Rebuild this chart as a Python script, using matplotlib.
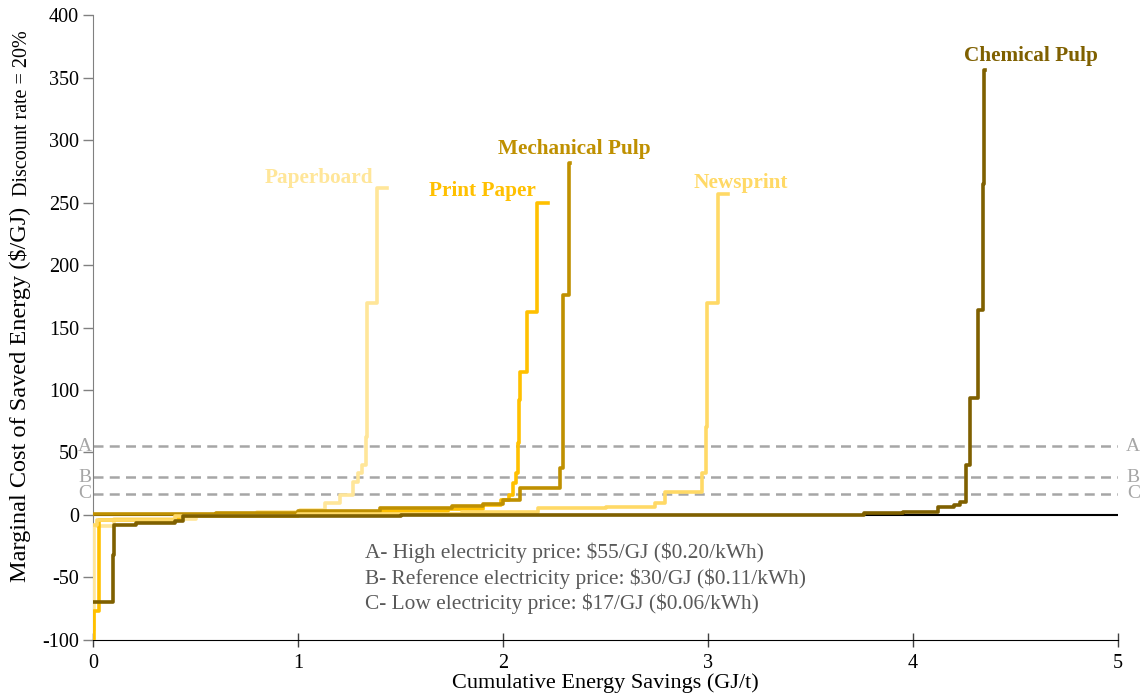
import matplotlib
matplotlib.use("Agg")
import matplotlib.pyplot as plt

plt.rcParams['font.family'] = ['Liberation Serif', 'DejaVu Serif']
plt.rcParams['axes.unicode_minus'] = False

# Each series: cost of each measure ($/GJ) and cumulative savings at its end (GJ/t)
paperboard_cost = [-92, -9, -3, 0, 2.4, 4, 9.6, 16, 26, 33.6, 40, 62, 170, 261.6]
paperboard_end = [0.003, 0.1, 0.5, 0.8, 1.01, 1.13, 1.205, 1.268, 1.293, 1.312, 1.33, 1.337, 1.385, 1.434]

print_cost = [-100, -77, -4, -0.5, 1.5, 3.5, 5, 8, 12, 16, 25.6, 33.6, 57.6, 92, 114.4, 162.4, 249.6]
print_end = [0.004, 0.03, 0.42, 1.0, 1.4, 1.73, 1.9, 1.99, 2.029, 2.049, 2.065, 2.072, 2.078, 2.083, 2.117, 2.166, 2.22]

mech_cost = [0.5, 1.5, 3, 5.6, 7, 9, 12, 21.6, 37.6, 176, 281.6]
mech_end = [0.6, 1.0, 1.4, 1.75, 1.9, 2.0, 2.083, 2.278, 2.293, 2.322, 2.327]

news_cost = [-8, -4, -1, 1, 2.6, 5.6, 6.6, 9.6, 18.4, 33.6, 70, 169.6, 256.8]
news_end = [0.02, 0.4, 1.0, 1.8, 2.17, 2.5, 2.741, 2.79, 2.971, 2.99, 2.995, 3.049, 3.1]

chem_cost = [-70, -32, -8, -6.6, -4.8, -1, 0, 1.3, 2.6, 6, 8, 10.6, 40, 93.6, 164, 265, 356]
chem_end = [0.097, 0.1, 0.21, 0.4, 0.44, 1.5, 3.76, 3.95, 4.12, 4.2, 4.23, 4.259, 4.278, 4.317, 4.34, 4.346, 4.35]

series_names = ["Paperboard", "Print Paper", "Mechanical Pulp", "Newsprint", "Chemical Pulp"]
series_colors = ["#FFE699", "#FFC000", "#BF9000", "#FFD966", "#7F6000"]
label_pos = [(1.10, 270), (1.90, 259), (2.35, 293), (3.16, 266), (4.575, 367)]

price_levels = [55, 30, 17]
price_letters = ["A", "B", "C"]
price_texts = [r"A- High electricity price: \$55/GJ (\$0.20/kWh)",
               r"B- Reference electricity price: \$30/GJ (\$0.11/kWh)",
               r"C- Low electricity price: \$17/GJ (\$0.06/kWh)"]

fig = plt.figure(figsize=(11.43, 6.96), dpi=100)
ax = fig.add_axes([0.0814, 0.0805, 0.8967, 0.8979])

ax.axhline(0, color="black", lw=1.5, zorder=1)
for lvl in price_levels:
    ax.axhline(lvl, color="#A6A6A6", lw=1.8, ls=(0, (4, 2.5)), zorder=1)

data = [(paperboard_cost, paperboard_end), (print_cost, print_end), (mech_cost, mech_end),
        (news_cost, news_end), (chem_cost, chem_end)]
for (cost, end), name, col, (lx, ly) in zip(data, series_names, series_colors, label_pos):
    xs = [0] + list(end)
    ys = list(cost) + [cost[-1]]
    ax.plot(xs, ys, drawstyle="steps-post", color=col, lw=2.6, zorder=3)
    ax.text(lx, ly, name, color=col, fontsize=15.3, fontweight="bold", ha="center", va="center")

for lvl, let in zip(price_levels, price_letters):
    ax.text(-0.04, lvl, let, color="#A6A6A6", fontsize=14, ha="center", va="center", clip_on=False)
    ax.text(5.075, lvl, let, color="#A6A6A6", fontsize=14, ha="center", va="center", clip_on=False)

for i, t in enumerate(price_texts):
    ax.text(1.327, -30.4 - 20.3 * i, t, color="#595959", fontsize=15.4, ha="left", va="center")

ax.set_xlim(0, 5)
ax.set_ylim(-100, 400)
ax.set_xticks([0, 1, 2, 3, 4, 5])
ax.set_yticks(range(-100, 401, 50))
ax.tick_params(axis="y", direction="out", length=7, width=1, labelsize=14.5, pad=3, color="#808080")
ax.tick_params(axis="x", direction="inout", length=10, width=1, labelsize=14.5, pad=5, color="#404040")
for s in ["top", "right"]:
    ax.spines[s].set_visible(False)
ax.spines["left"].set_color("#808080")
ax.spines["bottom"].set_color("black")

ax.set_xlabel("Cumulative Energy Savings (GJ/t)", fontsize=16, labelpad=0)
fig.text(0.0175, 0.433, r"Marginal Cost of Saved Energy (\$/GJ)", rotation=90, fontsize=17.5,
         ha="center", va="center")
fig.text(0.0195, 0.838, "Discount rate = 20%", rotation=90, fontsize=14.5, ha="center", va="center")

fig.savefig("out.png", dpi=100)
